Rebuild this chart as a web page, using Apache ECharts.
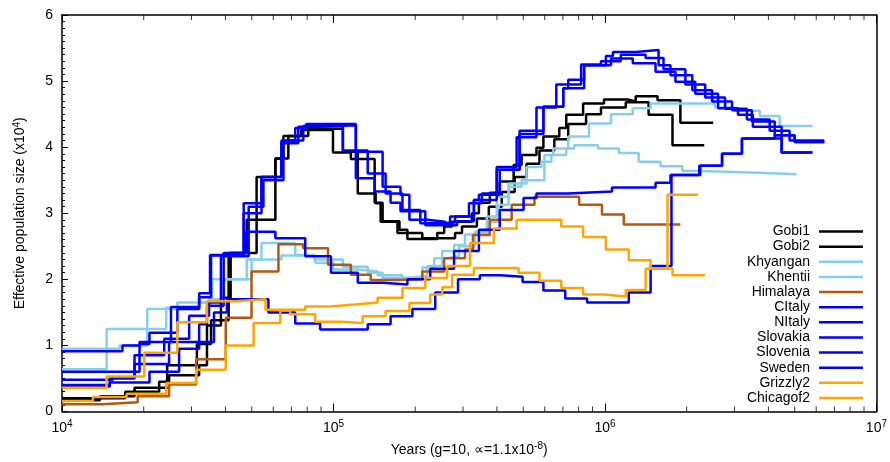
<!DOCTYPE html>
<html><head><meta charset="utf-8">
<script src="https://cdn.jsdelivr.net/npm/echarts@6/dist/echarts.min.js"></script>
<style>html,body{margin:0;padding:0;background:#fff}#c{width:890px;height:462px}</style>
</head><body><div id="c"></div>
<script>
// ---- data (x = years, y = effective population size x10^4) ----
const seriesNames = ['Gobi1','Gobi2','Khyangan','Khentii','Himalaya','CItaly','NItaly','Slovakia','Slovenia','Sweden','Grizzly2','Chicagof2'];
const seriesColors = ['#000000','#000000','#87ceeb','#87ceeb','#b4580f','#0000ff','#0000ff','#0000ff','#0000ff','#0000ff','#ffa500','#ffa500'];

const gobi1 = [[10000,0.20],[17100,0.30],[22800,0.45],[24400,0.70],[31400,1.02],[35400,1.38],[41100,2.40],[52100,3.55],[61100,3.83],[65400,4.17],[76100,4.26],[99600,3.92],[115900,3.82],[141800,3.16],[151700,2.88],[175000,2.75],[187200,2.61],[241000,2.70],[255700,2.80],[273500,2.87],[323600,3.00],[343300,3.16],[376600,3.31],[409700,3.48],[460900,3.73],[493000,3.88],[559400,3.99],[593300,4.16],[678900,4.29],[720100,4.49],[830900,4.66],[991600,4.72],[1214000,4.69],[1298000,4.77],[1562000,4.71],[1896000,4.37],[2503000,4.37]];
const gobi2 = [[10000,0.17],[13800,0.23],[18500,0.36],[24800,0.55],[32000,0.70],[34200,1.30],[38500,1.72],[41800,2.40],[47900,2.90],[61100,3.83],[68200,4.17],[80700,4.28],[108300,3.93],[122900,3.30],[143000,3.15],[149200,2.87],[172100,2.70],[212400,2.62],[280500,2.70],[297500,2.80],[337500,2.92],[373400,3.10],[416600,3.32],[464800,3.55],[514200,3.75],[573700,3.95],[650900,4.12],[732300,4.35],[852100,4.50],[966800,4.60],[1193000,4.68],[1448000,4.49],[1773000,4.03],[2321000,4.03]];
const khyangan = [[10000,0.64],[14600,1.25],[24200,1.57],[26600,1.65],[34800,1.70],[39400,2.00],[47900,2.30],[54300,2.55],[72300,2.37],[84900,2.30],[108300,2.19],[133700,2.10],[151700,2.02],[187200,2.05],[221600,2.20],[251400,2.43],[278100,2.52],[305100,2.68],[373400,2.87],[406200,3.13],[441900,3.40],[493000,3.50],[598300,3.88],[645400,3.98],[732300,4.16],[873900,4.36],[1052000,4.50],[1266000,4.59],[1473000,4.66],[2546000,4.60],[3013000,4.55],[3719000,4.47],[4400000,4.32],[5810000,4.32]];
const khentii = [[10000,0.95],[16300,1.00],[20600,1.55],[32000,1.65],[35700,2.00],[49900,2.30],[64300,2.36],[85600,2.25],[99600,2.15],[122900,2.12],[145400,2.06],[179500,2.02],[212400,2.18],[235000,2.32],[262200,2.35],[290100,2.50],[331900,2.72],[367200,2.95],[399400,3.25],[441900,3.45],[514200,3.70],[583400,3.78],[634700,3.88],[720100,3.98],[770200,4.03],[942700,3.98],[1125000,3.91],[1331000,3.78],[1602000,3.71],[1928000,3.64],[2282000,3.61],[3878000,3.59],[5078000,3.59]];
const himalaya = [[10000,0.11],[14100,0.14],[19000,0.23],[24800,0.41],[31200,0.79],[40100,1.42],[49900,2.12],[62700,2.53],[77400,2.47],[95500,2.22],[115900,2.07],[137100,1.99],[172100,2.00],[212400,2.12],[255700,2.32],[305100,2.45],[326400,2.67],[376600,2.90],[453200,3.13],[550000,3.25],[803400,3.13],[975000,2.98],[1173000,2.83],[1896000,2.83]];
const cItaly = [[10000,0.91],[16700,1.00],[19300,1.05],[25200,1.58],[32000,1.79],[35100,2.37],[46700,3.15],[54300,3.55],[64300,4.06],[74200,4.31],[87800,4.33],[120900,3.93],[151700,3.40],[176500,3.28],[190400,2.90],[221600,2.87],[257800,2.82],[285200,2.88],[329100,3.20],[399400,3.66],[484800,4.20],[593300,4.61],[702100,4.89],[732300,5.02],[837900,5.24],[1008000,5.38],[1070000,5.44],[1298000,5.47],[1576000,5.24],[1743000,5.09],[2098000,4.86],[2482000,4.69],[2938000,4.56],[3476000,4.39],[4219000,4.18],[4993000,4.08],[6427000,4.08]];
const nItaly = [[10000,0.60],[19300,1.02],[21000,1.19],[26600,1.55],[32000,1.73],[35400,2.36],[46700,3.00],[54300,3.55],[64300,4.10],[72300,4.29],[79300,4.35],[120900,3.53],[141800,3.33],[162300,3.16],[176500,3.03],[217900,2.82],[268900,2.95],[329100,3.20],[343300,3.28],[409700,3.66],[484800,4.25],[593300,4.61],[702100,4.89],[837900,5.24],[1052000,5.34],[1266000,5.27],[1536000,5.14],[1818000,4.99],[2151000,4.81],[2611000,4.59],[3090000,4.49],[3506000,4.31],[4475000,3.92],[5810000,3.92]];
const slovakia = [[10000,0.48],[15400,0.52],[18500,0.85],[23800,1.10],[29400,1.45],[34800,1.65],[38500,2.35],[48700,3.10],[55200,3.50],[65400,4.10],[77400,4.32],[108300,3.95],[133700,3.60],[155600,3.30],[179500,3.05],[208900,2.85],[241000,2.86],[280500,2.95],[315600,3.15],[352100,3.30],[399400,3.70],[472700,4.15],[559400,4.60],[661900,4.95],[817000,5.25],[966800,5.30],[1144000,5.40],[1412000,5.35],[1643000,5.18],[1978000,4.95],[2340000,4.75],[2770000,4.58],[3333000,4.42],[4045000,4.25],[4787000,4.10],[6427000,4.10]];
const slovenia = [[10000,0.40],[15000,0.50],[18500,0.72],[24800,1.05],[32000,1.32],[34200,1.60],[39400,2.40],[47500,2.72],[61100,2.62],[78700,2.35],[97900,2.10],[122900,1.95],[151700,1.92],[187200,2.00],[227200,2.16],[278100,2.43],[343300,2.75],[409700,3.05],[501400,3.23],[559400,3.30],[732300,3.33],[1061000,3.39],[1536000,3.46],[1743000,3.58],[2244000,3.72],[2700000,3.90],[3196000,4.13],[4219000,4.18],[4993000,4.08],[6427000,4.08]];
const sweden = [[10000,0.38],[15000,0.44],[21000,0.60],[27000,0.95],[32000,1.05],[36300,1.50],[40500,1.70],[57600,1.50],[72300,1.33],[89300,1.24],[133700,1.32],[162300,1.44],[195300,1.55],[237000,1.80],[287600,2.00],[346200,2.06],[413100,2.04],[497200,1.96],[593300,1.83],[714000,1.71],[859300,1.65],[1224000,1.80],[1473000,2.20],[1758000,3.58],[2225000,3.72],[2700000,3.90],[3196000,4.13],[4475000,3.92],[5810000,3.92]];
const grizzly2 = [[10000,0.36],[14600,0.53],[20100,0.89],[26600,1.35],[34200,1.67],[44000,1.70],[56200,1.54],[78700,1.59],[97100,1.62],[119800,1.65],[145400,1.72],[179500,1.87],[217900,2.02],[262200,2.20],[318200,2.55],[389500,2.77],[472700,2.90],[690400,2.80],[830900,2.64],[1008000,2.45],[1224000,2.29],[1473000,2.16],[1773000,2.06],[2340000,2.06]];
const chicagof2 = [[10000,0.16],[13000,0.22],[17300,0.27],[24200,0.43],[31200,0.63],[40100,1.00],[50800,1.34],[63700,1.53],[69300,1.47],[85600,1.36],[105600,1.34],[128200,1.44],[155600,1.52],[190400,1.64],[227200,1.77],[251400,1.88],[273500,2.07],[329100,2.17],[480700,2.10],[573700,1.98],[690400,1.87],[830900,1.77],[991600,1.74],[1193000,1.84],[1412000,2.16],[1700000,3.28],[2206000,3.28]];

const xMin = 1e4, xMax = 1e7;
const yMin = 0, yMax = 6, yStep = 1;

// ---- chart ----
const FONT = '"Liberation Sans", Arial, Helvetica, sans-serif';
const FS = 14;
const allData = [gobi1, gobi2, khyangan, khentii, himalaya, cItaly, nItaly, slovakia, slovenia, sweden, grizzly2, chicagof2];

const series = seriesNames.map((n, i) => ({
  name: n, type: 'line', step: 'end', data: allData[i],
  symbol: 'none', showSymbol: false, animation: false,
  lineStyle: { width: 2.5, color: seriesColors[i] },
  itemStyle: { color: seriesColors[i] }
}));

// minor ticks of the log axis (2..9 per decade), bottom and top, drawn inside
const minorX = [];
for (let e = 4; e < 7; e++) for (let k = 2; k <= 9; k++) minorX.push(k * Math.pow(10, e));
series.push({ type: 'scatter', data: minorX.map(v => [v, yMin]), symbol: 'rect', symbolSize: [1, 5], symbolOffset: [0, -2.5], itemStyle: { color: '#000' }, silent: true, clip: false, animation: false, z: 10 });
series.push({ type: 'scatter', data: minorX.map(v => [v, yMax]), symbol: 'rect', symbolSize: [1, 5], symbolOffset: [0, 2.5], itemStyle: { color: '#000' }, silent: true, clip: false, animation: false, z: 10 });

const supRich = {
  a: { fontSize: FS, color: '#000', fontFamily: FONT, lineHeight: 17 },
  s: { fontSize: 10, color: '#000', fontFamily: FONT, verticalAlign: 'top', lineHeight: 10 }
};

const chart = echarts.init(document.getElementById('c'), null, { renderer: 'canvas' });
chart.setOption({
  animation: false,
  backgroundColor: '#fff',
  grid: { left: 62, right: 8, top: 15, bottom: 50, containLabel: false },
  legend: {
    data: seriesNames, orient: 'vertical', right: 22, top: 219.5, align: 'right',
    icon: 'path://M0,0 H44 V2.5 H0 Z',
    itemWidth: 44, itemHeight: 14, itemGap: 1.13, padding: 5,
    textStyle: { fontSize: FS, color: '#000', fontFamily: FONT, padding: [0, 4, 0, 0] },
    selectedMode: false
  },
  xAxis: [{
    type: 'log', logBase: 10, min: xMin, max: xMax, position: 'bottom',
    axisLine: { show: true, onZero: false, lineStyle: { color: '#000', width: 1.5 } },
    axisTick: { show: true, inside: true, length: 8, lineStyle: { color: '#000', width: 1 } },
    axisLabel: {
      margin: 8,
      formatter: v => '{a|10}{s|' + Math.round(Math.log10(v)) + '}',
      rich: supRich
    },
    splitLine: { show: false },
    name: '{a|Years (g=10, ∝=1.1x10}{s|-8}{a|)}',
    nameLocation: 'middle', nameGap: 30,
    nameTextStyle: { rich: supRich }
  }, {
    type: 'log', logBase: 10, min: xMin, max: xMax, position: 'top',
    axisLine: { show: true, onZero: false, lineStyle: { color: '#000', width: 1.5 } },
    axisTick: { show: true, inside: true, length: 8, lineStyle: { color: '#000', width: 1 } },
    axisLabel: { show: false }, splitLine: { show: false }
  }],
  yAxis: [{
    type: 'value', min: yMin, max: yMax, interval: yStep, position: 'left',
    axisLine: { show: true, onZero: false, lineStyle: { color: '#000', width: 1.5 } },
    axisTick: { show: true, inside: true, length: 6, lineStyle: { color: '#000', width: 1 } },
    minorTick: { show: true, splitNumber: 10, length: 3, lineStyle: { color: '#000', width: 1 } },
    axisLabel: { fontSize: FS, color: '#000', fontFamily: FONT, margin: 9 },
    splitLine: { show: false }, minorSplitLine: { show: false },
    name: '{a|Effective population size (x10}{s|4}{a|)}',
    nameLocation: 'middle', nameGap: 33, nameRotate: 90,
    nameTextStyle: { rich: supRich }
  }, {
    type: 'value', min: yMin, max: yMax, interval: yStep, position: 'right',
    axisLine: { show: true, onZero: false, lineStyle: { color: '#000', width: 1.5 } },
    axisTick: { show: false }, axisLabel: { show: false }, splitLine: { show: false }
  }],
  series: series
});
</script></body></html>
